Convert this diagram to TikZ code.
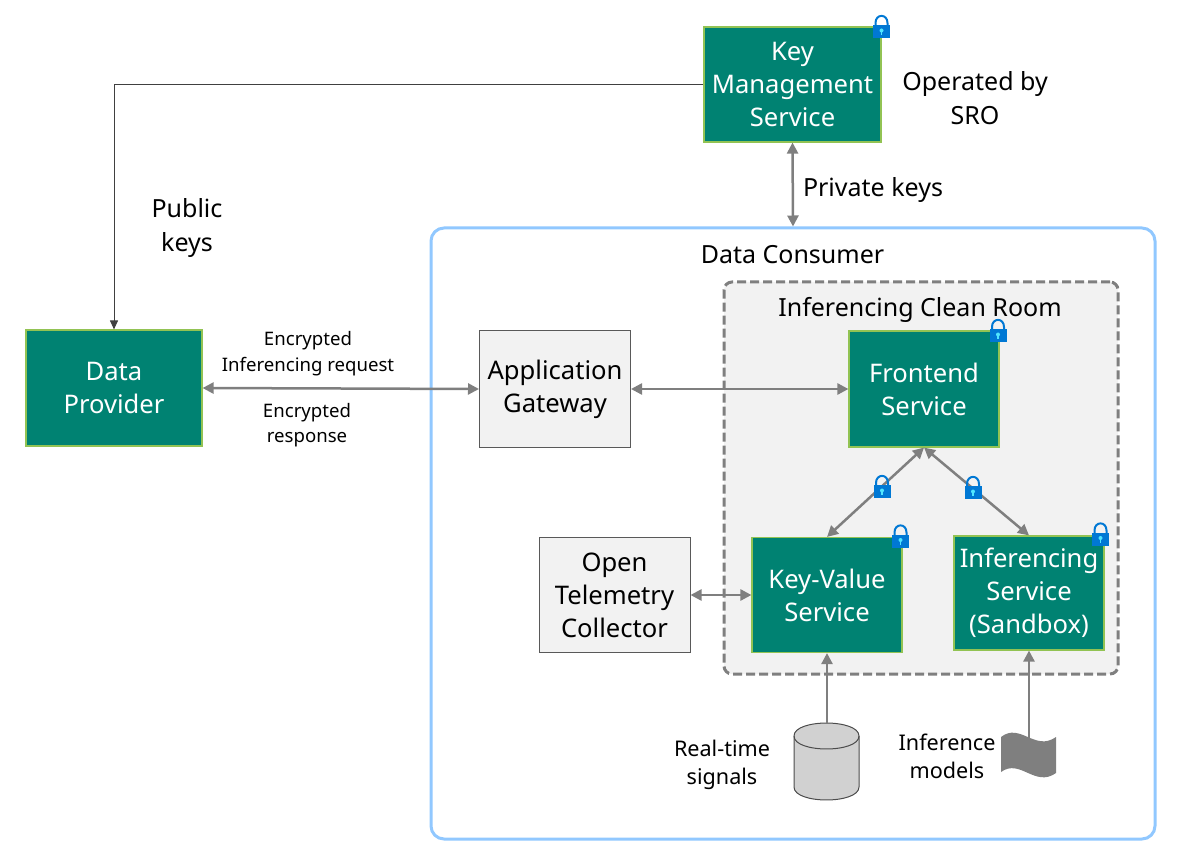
\documentclass[tikz,border=0pt]{standalone}
\usepackage{xcolor}
\usepackage{fontspec}
\setmainfont{Noto Sans}
\usetikzlibrary{arrows.meta}
\definecolor{tealfill}{HTML}{008272}
\definecolor{tealedge}{HTML}{92C353}
\definecolor{lockblue}{HTML}{0078D4}
\definecolor{lockhole}{HTML}{50E6FF}
\definecolor{arrowgray}{HTML}{7F7F7F}
\definecolor{roomfill}{HTML}{F2F2F2}
\definecolor{consumerblue}{HTML}{91C8FF}
\tikzset{
    bigtext/.style={font=\fontsize{25.6}{33}\selectfont, align=center},
    midtext/.style={font=\fontsize{25}{34}\selectfont, align=center, text=black},
    smalltext/.style={font=\fontsize{18.6}{25.5}\selectfont, align=center, text=black},
    sidetext/.style={font=\fontsize{21.6}{28}\selectfont, align=center, text=black},
    tealbox/.style={bigtext, draw=tealedge, fill=tealfill, text=white, line width=1.15pt, minimum height=115, minimum width=150, inner sep=0pt},
    graybox/.style={bigtext, draw=black!65, fill=roomfill, text=black, line width=1pt, minimum height=115, minimum width=151, inner sep=0pt},
    biarrow/.style={draw=arrowgray, line width=2.5pt, {Triangle[width=11pt,length=11pt]}-{Triangle[width=11pt,length=11pt]}},
    uparrow/.style={draw=arrowgray, line width=2.5pt, -{Triangle[width=11pt,length=11pt]}},
    lockicon/.pic={
        \draw[lockblue, line width=2pt] (-6,0) -- (-6,-4) .. controls (-6,-13.5) and (6,-13.5) .. (6,-4) -- (6,0);
        \fill[lockblue] (-8.5,-2) rectangle (8.5,11);
        \fill[lockhole] (0,3.5) circle (2);
        \fill[lockhole] (-0.8,4) rectangle (0.8,8);
    }
}
\begin{document}
\begin{tikzpicture}[x=1pt, y=-1pt]
    \useasboundingbox (0,0) rectangle (1202,866);

    \node[draw=consumerblue, line width=3pt, rounded corners=13pt, minimum width=724, minimum height=611, inner sep=0pt] (consumer) at (793,533.5) {};
    \node[draw=arrowgray, dashed, dash pattern=on 9pt off 4pt, fill=roomfill, line width=3pt, rounded corners=8pt, minimum width=394, minimum height=392, inner sep=0pt] (cleanroom) at (921,478) {};

    \node[tealbox, minimum width=177] (kms) at (792.5,84.5) {Key\\Management\\Service};
    \node[tealbox, minimum width=176, minimum height=116] (provider) at (114,388) {Data\\Provider};
    \node[graybox, minimum height=116] (gateway) at (555,389) {Application\\Gateway};
    \node[tealbox, minimum height=116] (frontend) at (924,389) {Frontend\\Service};
    \node[tealbox] (keyvalue) at (827,595) {Key-Value\\Service};
    \node[tealbox, minimum height=114] (inferencing) at (1029,593) {Inferencing\\Service\\(Sandbox)};
    \node[graybox] (collector) at (614.5,595) {Open\\Telemetry\\Collector};

    \coordinate (signals) at (827,723);
    \filldraw[draw=black!70, fill=black!18, line width=1pt] (794,736) -- (794,787) .. controls (794,804.3) and (859,804.3) .. (859,787) -- (859,736) .. controls (859,718.7) and (794,718.7) .. (794,736) -- cycle;
    \draw[black!70, line width=1pt] (794,736) .. controls (794,753.3) and (859,753.3) .. (859,736);
    \coordinate (models) at (1029,738);
    \fill[arrowgray] (1001,737) .. controls (1020,722) and (1035,752) .. (1056,737) -- (1056,773) .. controls (1035,788) and (1020,758) .. (1001,772) -- cycle;

    \node[midtext] (operated) at (975,98) {Operated by\\SRO};
    \node[midtext] (private) at (873,190.5) {Private keys};
    \node[midtext] (public) at (187,228) {Public\\keys};
    \node[midtext] (consumerlabel) at (792.5,254.5) {Data Consumer};
    \node[midtext] (roomlabel) at (920,310) {Inferencing Clean Room};
    \node[smalltext] (request) at (308,353.5) {Encrypted\\Inferencing request};
    \node[smalltext] (response) at (307,425) {Encrypted\\response};
    \node[sidetext] (signalslabel) at (722,764.5) {Real-time\\signals};
    \node[sidetext] (modelslabel) at (947,756) {Inference\\models};

    \draw[black!75, line width=1pt, -{Triangle[width=8pt,length=9pt]}] (kms.west) -| (provider.north);
    \draw[biarrow] (kms.south) -- (consumer.north);
    \draw[biarrow] (provider.east) -- (gateway.west);
    \draw[biarrow] (gateway.east) -- (frontend.west);
    \draw[biarrow] (frontend.south) -- (keyvalue.north);
    \draw[biarrow] (frontend.south) -- (inferencing.north);
    \draw[biarrow] (collector.east) -- (keyvalue.west);
    \draw[uparrow] (signals) -- (keyvalue.south);
    \draw[uparrow] (models) -- (inferencing.south);

    \pic at (881.5,27) {lockicon};
    \pic at (998,331) {lockicon};
    \pic at (900.5,536.5) {lockicon};
    \pic at (1100.5,534.5) {lockicon};
    \pic at (882,487) {lockicon};
    \pic at (973,488) {lockicon};
\end{tikzpicture}
\end{document}
